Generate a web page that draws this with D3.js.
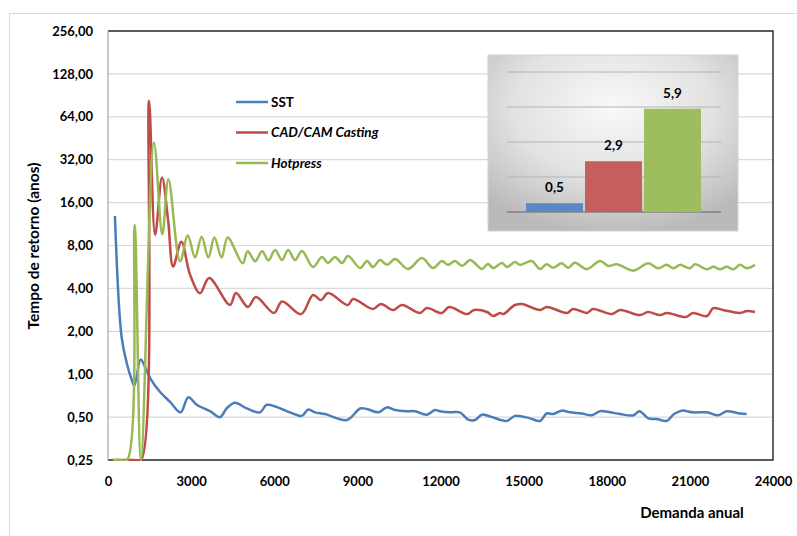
<!DOCTYPE html>
<html>
<head>
<meta charset="utf-8">
<script src="https://cdn.jsdelivr.net/npm/d3@7"></script>
<style>
  html, body { margin: 0; padding: 0; background: #fff; }
  svg text { font-family: Lato, 'Open Sans', sans-serif; font-weight: bold; fill: #000; }
</style>
</head>
<body>
<div id="chart"></div>
<script>
const width = 797;
const height = 536;

const yTicks = [0.25, 0.5, 1, 2, 4, 8, 16, 32, 64, 128, 256];
const xTicks = [0, 3000, 6000, 9000, 12000, 15000, 18000, 21000, 24000];
const seriesNames = ['SST', 'CAD/CAM Casting', 'Hotpress'];
const COLORS = ['#4a7ebb', '#be4b48', '#98b954'];

// SST
const sstDemand = [250, 490, 680, 860, 950, 1180, 1340, 1520, 1880, 2240,
  2620, 2900, 3200, 3680, 4040, 4280, 4580, 5010, 5490, 5730,
  6570, 6990, 7230, 7470, 7830, 8620, 9100, 9340, 9760, 10060,
  10360, 10780, 11080, 11500, 11800, 11980, 12340, 12700, 13000, 13250,
  13490, 13790, 14390, 14690, 15230, 15590, 15830, 16070, 16370, 16670,
  17100, 17460, 17760, 18120, 18480, 18960, 19180, 19500, 19800, 20160,
  20430, 20700, 21120, 21610, 22030, 22330, 22810, 23050];
const sstValue = [12.9, 1.83, 1.19, 0.91, 0.83, 1.27, 1.12, 0.94, 0.75, 0.64,
  0.54, 0.69, 0.61, 0.55, 0.50, 0.575, 0.63, 0.575, 0.54, 0.61,
  0.54, 0.51, 0.566, 0.54, 0.525, 0.477, 0.575, 0.57, 0.54, 0.585,
  0.56, 0.55, 0.55, 0.52, 0.56, 0.55, 0.54, 0.54, 0.48, 0.477,
  0.52, 0.505, 0.47, 0.51, 0.49, 0.47, 0.53, 0.525, 0.555, 0.54,
  0.53, 0.515, 0.55, 0.54, 0.525, 0.515, 0.55, 0.49, 0.485, 0.47,
  0.525, 0.555, 0.54, 0.54, 0.515, 0.55, 0.53, 0.525];

// CAD/CAM Casting
const cadDemand = [180, 430, 690, 940, 1190, 1480, 1700, 1950, 2170, 2350,
  2650, 2960, 3320, 3650, 4400, 4620, 5050, 5340, 5990, 6280,
  6970, 7400, 7690, 7940, 8660, 8840, 9560, 9850, 10290, 10610,
  11260, 11510, 12050, 12310, 12960, 13210, 13680, 13900, 14150, 14260,
  14690, 14940, 15590, 15840, 16570, 16780, 17290, 17500, 18190, 18480,
  19200, 19490, 19920, 20170, 20860, 21110, 21620, 21840, 22200, 22810,
  23060, 23350];
const cadValue = [0.25, 0.25, 0.25, 0.25, 0.25, 83, 9.5, 24, 12, 5.7,
  8.5, 5.0, 3.7, 4.73, 3.06, 3.71, 2.96, 3.48, 2.69, 3.24,
  2.64, 3.6, 3.31, 3.71, 3.06, 3.37, 2.87, 3.11, 2.82, 3.06,
  2.69, 2.91, 2.69, 2.96, 2.64, 2.82, 2.73, 2.56, 2.69, 2.64,
  3.06, 3.11, 2.82, 2.96, 2.69, 2.87, 2.69, 2.87, 2.64, 2.82,
  2.60, 2.73, 2.60, 2.69, 2.52, 2.69, 2.56, 2.91, 2.82, 2.69,
  2.78, 2.73];

// Hotpress
const hotDemand = [180, 430, 690, 960, 1190, 1660, 1960, 2180, 2600, 2880,
  3140, 3380, 3620, 3840, 4100, 4320, 4860, 5040, 5310, 5560,
  5790, 6030, 6280, 6500, 6750, 7000, 7400, 7720, 7940, 8190,
  8450, 8660, 9100, 9350, 9560, 9820, 10070, 10360, 10830, 11330,
  11730, 12050, 12270, 12520, 12780, 13070, 13500, 13710, 13900, 14220,
  14400, 14690, 14870, 15290, 15590, 15830, 16070, 16370, 16610, 16850,
  17280, 17760, 18060, 18360, 18960, 19500, 19860, 20160, 20400, 20640,
  21000, 21190, 21610, 21850, 22090, 22330, 22570, 22810, 23050, 23350];
const hotValue = [0.25, 0.25, 0.25, 11.2, 0.25, 42, 9.6, 23.3, 6.2, 9.4,
  6.6, 9.2, 6.6, 9.1, 6.6, 9.1, 6.0, 7.3, 6.2, 7.3,
  6.3, 7.44, 6.33, 7.44, 6.33, 7.32, 5.65, 6.64, 6.03, 6.64,
  6.03, 6.75, 5.56, 6.23, 5.65, 6.33, 5.85, 6.43, 5.47, 6.53,
  5.56, 6.23, 5.85, 6.23, 5.75, 6.33, 5.47, 5.94, 5.56, 6.03,
  5.65, 6.13, 5.85, 6.23, 5.47, 5.91, 5.59, 6.0, 5.59, 6.05,
  5.47, 6.23, 5.75, 5.91, 5.33, 6.0, 5.54, 5.85, 5.54, 5.85,
  5.54, 5.91, 5.45, 5.67, 5.45, 5.67, 5.45, 5.85, 5.54, 5.85];

// inset: mean payback per process
const barValues = [0.5, 2.9, 5.9];
const barTicks = [0, 2, 4, 6, 8];

const series = [
  {name: seriesNames[0], demand: sstDemand, value: sstValue},
  {name: seriesNames[1], demand: cadDemand, value: cadValue},
  {name: seriesNames[2], demand: hotDemand, value: hotValue}
];

const commaFmt = (d) => d3.format('.2f')(d).replace('.', ',');

const svg = d3.select('#chart').append('svg')
  .attr('width', width)
  .attr('height', height);

// outer chart frame
svg.append('rect')
  .attr('x', 9.5).attr('y', 13.5)
  .attr('width', width + 10).attr('height', height + 10)
  .attr('fill', '#fff')
  .attr('stroke', '#d9d9d9');

const plot = {left: 108, right: 773, top: 31, bottom: 460};

const x = d3.scaleLinear().domain([0, 24000]).range([plot.left, plot.right]);
const y = d3.scaleLog().base(2).domain([0.25, 256]).range([plot.bottom, plot.top]);

// gridlines
svg.append('g')
  .selectAll('line')
  .data(yTicks.slice(1, -1))
  .enter().append('line')
    .attr('x1', plot.left).attr('x2', plot.right)
    .attr('y1', (d) => y(d)).attr('y2', (d) => y(d))
    .attr('stroke', '#d9d9d9')
    .attr('stroke-width', 1.2);

// plot border: top/right/bottom dark, left grey
svg.append('path')
  .attr('d', `M${plot.left},${plot.top}H${plot.right}V${plot.bottom}H${plot.left}`)
  .attr('fill', 'none')
  .attr('stroke', '#262626')
  .attr('stroke-width', 1.4);
svg.append('line')
  .attr('x1', plot.left).attr('x2', plot.left)
  .attr('y1', plot.top).attr('y2', plot.bottom)
  .attr('stroke', '#a6a6a6')
  .attr('stroke-width', 1.2);

// axes
const yAxis = svg.append('g')
  .attr('transform', `translate(${plot.left},0)`)
  .call(d3.axisLeft(y).tickValues(yTicks).tickSize(0).tickPadding(15).tickFormat(commaFmt));
yAxis.select('.domain').remove();
yAxis.selectAll('.tick text')
  .attr('font-size', 13)
  .attr('font-family', null);

const xAxis = svg.append('g')
  .attr('transform', `translate(0,${plot.bottom})`)
  .call(d3.axisBottom(x).tickValues(xTicks).tickSize(0).tickPadding(17).tickFormat(d3.format('d')));
xAxis.select('.domain').remove();
xAxis.selectAll('.tick text')
  .attr('font-size', 13)
  .attr('font-family', null);

svg.append('text')
  .attr('transform', `translate(39,246) rotate(-90)`)
  .attr('text-anchor', 'middle')
  .attr('font-size', 15.5)
  .text('Tempo de retorno (anos)');

svg.append('text')
  .attr('x', 692).attr('y', 518)
  .attr('text-anchor', 'middle')
  .attr('font-size', 15)
  .text('Demanda anual');

// lines
svg.append('clipPath').attr('id', 'plot-clip')
  .append('rect')
  .attr('x', plot.left).attr('y', plot.top)
  .attr('width', plot.right - plot.left).attr('height', plot.bottom - plot.top + 1);

const line = d3.line()
  .x((d) => x(d[0]))
  .y((d) => y(d[1]))
  .curve(d3.curveCatmullRom.alpha(0.5));

svg.append('g')
    .attr('clip-path', 'url(#plot-clip)')
  .selectAll('path')
  .data(series)
  .enter().append('path')
    .attr('d', (s) => line(s.demand.map((d, i) => [d, s.value[i]])))
    .attr('fill', 'none')
    .attr('stroke', (s, i) => COLORS[i])
    .attr('stroke-width', 2.5)
    .attr('stroke-linejoin', 'round');

// legend
const legend = svg.append('g')
  .selectAll('g')
  .data(seriesNames)
  .enter().append('g')
    .attr('transform', (d, i) => `translate(236,${102 + i * 30.5})`);
legend.append('line')
  .attr('x1', 0).attr('x2', 32)
  .attr('stroke', (d, i) => COLORS[i])
  .attr('stroke-width', 2.5);
legend.append('text')
  .attr('x', 35).attr('y', 4.5)
  .attr('font-size', 13.5)
  .attr('font-style', (d, i) => i ? 'italic' : 'normal')
  .text((d) => d);

// inset bar chart
const inset = {left: 488, top: 55, width: 250, height: 176};
const defs = svg.append('defs');
const grad = defs.append('radialGradient')
  .attr('id', 'inset-bg')
  .attr('cx', '50%').attr('cy', '30%').attr('r', '72%');
grad.append('stop').attr('offset', '0%').attr('stop-color', '#f9f9f9');
grad.append('stop').attr('offset', '55%').attr('stop-color', '#e2e2e2');
grad.append('stop').attr('offset', '100%').attr('stop-color', '#bababa');

svg.append('rect')
  .attr('x', inset.left).attr('y', inset.top)
  .attr('width', inset.width).attr('height', inset.height)
  .attr('fill', 'url(#inset-bg)')
  .attr('stroke', '#d4d4d4');

const bx = d3.scaleBand().domain(seriesNames).range([526, 701]).paddingInner(0.035);
const by = d3.scaleLinear().domain([0, 8]).range([212, 72]);

svg.append('g')
  .selectAll('line')
  .data(barTicks)
  .enter().append('line')
    .attr('x1', 507).attr('x2', 721)
    .attr('y1', (d) => by(d)).attr('y2', (d) => by(d))
    .attr('stroke', (d) => d ? '#b4b4b4' : '#808080')
    .attr('stroke-width', (d) => d ? 1 : 1.4);

svg.append('g')
  .selectAll('rect')
  .data(barValues)
  .enter().append('rect')
    .attr('x', (d, i) => bx(seriesNames[i]))
    .attr('y', (d) => by(d))
    .attr('width', bx.bandwidth())
    .attr('height', (d) => by(0) - by(d))
    .attr('fill', (d, i) => ['#5a88c6', '#c45f5d', '#9dbd5f'][i]);

svg.append('g')
  .selectAll('text')
  .data(barValues)
  .enter().append('text')
    .attr('x', (d, i) => bx(seriesNames[i]) + bx.bandwidth() / 2)
    .attr('y', (d) => by(d) - 11)
    .attr('text-anchor', 'middle')
    .attr('font-size', 13.5)
    .text((d) => d3.format('.1f')(d).replace('.', ','));
</script>
</body>
</html>
